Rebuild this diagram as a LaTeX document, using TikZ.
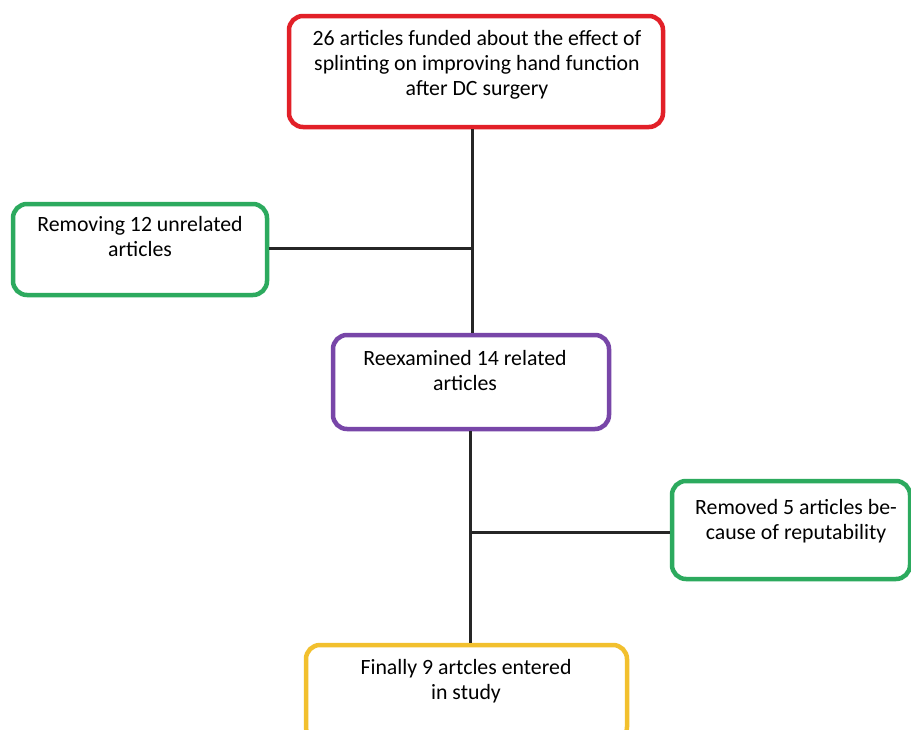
\documentclass[tikz,border=0pt]{standalone}
\usepackage{fontspec}
\setmainfont{Carlito}
\definecolor{cred}{RGB}{226,32,40}
\definecolor{cgreen}{RGB}{44,170,94}
\definecolor{cpurple}{RGB}{120,70,168}
\definecolor{cyellow}{RGB}{242,192,46}
\begin{document}
\begin{tikzpicture}[x=1pt,y=-1pt,
  box/.style={draw=#1,line width=4.5pt,rounded corners=14pt,fill=white,inner sep=0pt},
  lbl/.style={align=center,font=\fontsize{21.8}{25}\selectfont,inner sep=0pt},
  conn/.style={line width=3pt,draw=black!85}]
\useasboundingbox[fill=white] (0,0) rectangle (911,729);
% boxes (drawn as named nodes)
\node[box=cred,minimum width=374pt,minimum height=111pt] (top) at (476,71.5) {};
\node[box=cgreen,minimum width=254pt,minimum height=91pt] (left) at (140,249.5) {};
\node[box=cpurple,minimum width=276pt,minimum height=94pt] (mid) at (471,382) {};
\node[box=cgreen,minimum width=238pt,minimum height=98pt] (right) at (791,530) {};
\node[box=cyellow,minimum width=321pt,minimum height=96pt] (bot) at (466.5,693) {};
% connectors
\coordinate (j1) at (472,248);
\coordinate (j2) at (470,532);
\draw[conn] (top.south -| j1) -- (mid.north -| j1);
\draw[conn] (left.east |- j1) -- (j1);
\draw[conn] (mid.south -| j2) -- (bot.north -| j2);
\draw[conn] (j2) -- (right.west |- j2);
% labels
\node[lbl] (ttop) at (477,65) {26 articles funded about the effect of\\splinting on improving hand function\\after DC surgery};
\node[lbl] (tleft) at (140,237) {Removing 12 unrelated\\articles};
\node[lbl] (tmid) at (465,371) {Reexamined 14 related\\articles};
\node[lbl] (tright) at (796,521) {Removed 5 articles be-\\cause of reputability};
\node[lbl] (tbot) at (466,681) {Finally 9 artcles entered\\in study};
\end{tikzpicture}
\end{document}
